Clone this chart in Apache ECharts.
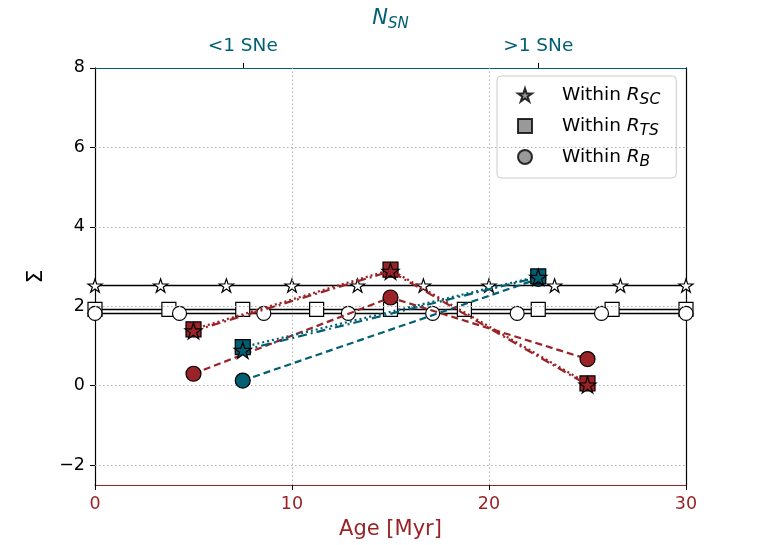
<!DOCTYPE html>
<html><head><meta charset="utf-8">
<script src="https://cdn.jsdelivr.net/npm/echarts@6/dist/echarts.min.js"></script>
<style>html,body{margin:0;padding:0;background:#fff}#c{width:763px;height:545px}</style>
</head><body><div id="c"></div>
<script>
const RED = '#9B2226', TEAL = '#005F73';
const STAR = 'path://M50 0 L61.23 34.55 L97.55 34.55 L68.16 55.9 L79.39 90.45 L50 69.1 L20.61 90.45 L31.84 55.9 L2.45 34.55 L38.77 34.55 Z';

// reference horizontal levels and their marker positions
const levelSC = 2.52, levelTS = 1.92, levelB = 1.82;
const markSC = [0, 3.33, 6.67, 10, 13.33, 16.67, 20, 23.33, 26.67, 30];
const markTS = [0, 3.75, 7.5, 11.25, 15, 18.75, 22.5, 26.25, 30];
const markB = [0, 4.29, 8.57, 12.86, 17.14, 21.43, 25.71, 30];

// red (age bins 5, 15, 25)
const redAges = [5, 15, 25];
const redB = [0.30, 2.22, 0.67];
const redTS = [1.42, 2.92, 0.06];
const redSC = [1.38, 2.88, 0.02];
// teal (N_SN bins at 7.5, 22.5)
const tealAges = [7.5, 22.5];
const tealB = [0.13, 2.69];
const tealTS = [0.97, 2.75];
const tealSC = [0.89, 2.73];

const yTicks = [-2, 0, 2, 4, 6, 8];
const xGrid = [10, 20];
const yGrid = [-2, 0, 2, 4, 6];
const topTicks = [7.5, 22.5];
const topLabels = {7.5: '<1 SNe', 22.5: '>1 SNe'};

const chart = echarts.init(document.getElementById('c'), null, {renderer: 'canvas'});
const FONT = 'DejaVu Sans';

function hline(level, marks, symbol) {
  return {
    type: 'line', xAxisIndex: 0, yAxisIndex: 0, silent: true, z: 2,
    data: marks.map(x => [x, level]),
    symbol: symbol, symbolSize: 14, symbolKeepAspect: true,
    showSymbol: true,
    lineStyle: {color: '#000', width: 1.5},
    itemStyle: {color: '#fff', borderColor: '#000', borderWidth: 1.2},
    legendHoverLink: false
  };
}
function dataSeries(ages, vals, color, symbol, dash, z) {
  return {
    type: 'line', xAxisIndex: 0, yAxisIndex: 0, silent: true, z: z,
    data: ages.map((a, i) => [a, vals[i]]),
    symbol: symbol, symbolSize: symbol === STAR ? 17 : 15, symbolKeepAspect: true,
    lineStyle: {color: color, width: 2.2, type: dash},
    itemStyle: {color: color, borderColor: '#000', borderWidth: 1.2}
  };
}
function legendSeries(name, symbol) {
  return {
    type: 'scatter', name: name, data: [], symbol: symbol, symbolKeepAspect: true,
    itemStyle: {color: '#808080', borderColor: '#000', borderWidth: 1.2}
  };
}

const grid = {
  type: 'line', data: [], silent: true, z: 1,
  markLine: {
    silent: true, symbol: 'none', label: {show: false},
    lineStyle: {color: '#b0b0b0', type: [1.5, 2.5], width: 1},
    data: yGrid.map(v => ({yAxis: v})).concat(xGrid.map(v => ({xAxis: v})))
  }
};

chart.setOption({
  animation: false,
  backgroundColor: '#fff',
  grid: {left: 95, right: 77, top: 66, bottom: 59},
  legend: {
    show: true, orient: 'vertical', left: 497, top: 76,
    padding: [6, 16, 8, 20], itemGap: 5,
    itemWidth: 14, itemHeight: 14,
    backgroundColor: '#fff', borderColor: '#cccccc', borderWidth: 1, borderRadius: 4,
    data: ['SC', 'TS', 'B'],
    formatter: n => '{w|Within }{r|R}{s|' + n + '}',
    textStyle: {
      fontFamily: FONT, fontSize: 18.5, color: '#000', padding: [0, 0, 0, 25],
      rich: {
        w: {fontFamily: FONT, fontSize: 18.5, color: '#000', lineHeight: 22},
        r: {fontFamily: FONT, fontSize: 18.5, fontStyle: 'italic', color: '#000', lineHeight: 22},
        s: {fontFamily: FONT, fontSize: 15.5, fontStyle: 'italic', color: '#000', lineHeight: 12, padding: [10, 0, 0, 0]}
      }
    }
  },
  xAxis: [{
    type: 'value', min: 0, max: 30, interval: 10, position: 'bottom',
    name: 'Age [Myr]', nameLocation: 'middle', nameGap: 34,
    nameTextStyle: {color: RED, fontFamily: FONT, fontSize: 21},
    axisLine: {onZero: false, lineStyle: {color: RED, width: 1.2}},
    axisTick: {show: true, length: 5, lineStyle: {color: '#000'}},
    axisLabel: {color: RED, fontFamily: FONT, fontSize: 17.5, margin: 10},
    splitLine: {show: false}
  }, {
    type: 'value', min: 0, max: 30, position: 'top',
    name: '{n|N}{s|SN}', nameLocation: 'middle', nameGap: 33,
    nameTextStyle: {color: TEAL, fontFamily: FONT, fontSize: 21,
      rich: {n: {fontFamily: FONT, fontSize: 21, fontStyle: 'italic', color: TEAL, lineHeight: 24},
             s: {fontFamily: FONT, fontSize: 15, fontStyle: 'italic', color: TEAL, lineHeight: 12, padding: [12, 0, 0, 0]}}},
    axisLine: {onZero: false, lineStyle: {color: TEAL, width: 1.2}},
    axisTick: {show: true, length: 5, customValues: topTicks, lineStyle: {color: '#000'}},
    axisLabel: {show: true, customValues: topTicks, formatter: v => topLabels[v] || '',
      color: TEAL, fontFamily: FONT, fontSize: 18.5, margin: 12},
    splitLine: {show: false}
  }],
  yAxis: [{
    type: 'value', min: -2.5, max: 8, position: 'left',
    name: 'Σ', nameLocation: 'middle', nameGap: 48, nameRotate: 90,
    nameTextStyle: {color: '#000', fontFamily: FONT, fontSize: 22},
    axisLine: {onZero: false, show: true, lineStyle: {color: '#000', width: 1.2}},
    axisTick: {show: true, length: 5, customValues: yTicks, lineStyle: {color: '#000'}},
    axisLabel: {customValues: yTicks, color: '#000', fontFamily: FONT, fontSize: 17.5, margin: 10,
      formatter: v => v < 0 ? '\u2212' + Math.abs(v) : String(v)},
    splitLine: {show: false}
  }, {
    type: 'value', min: -2.5, max: 8, position: 'right',
    axisLine: {onZero: false, show: true, lineStyle: {color: '#000', width: 1.2}},
    axisTick: {show: false}, axisLabel: {show: false}, splitLine: {show: false}
  }],
  series: [
    grid,
    hline(levelSC, markSC, STAR),
    hline(levelTS, markTS, 'rect'),
    hline(levelB, markB, 'circle'),
    dataSeries(redAges, redB, RED, 'circle', [7, 4], 5),
    dataSeries(redAges, redTS, RED, 'rect', [2, 3], 6),
    dataSeries(redAges, redSC, RED, STAR, [9, 4, 2, 4], 7),
    dataSeries(tealAges, tealB, TEAL, 'circle', [7, 4], 5),
    dataSeries(tealAges, tealTS, TEAL, 'rect', [2, 3], 6),
    dataSeries(tealAges, tealSC, TEAL, STAR, [9, 4, 2, 4], 7),
    legendSeries('SC', STAR),
    legendSeries('TS', 'rect'),
    legendSeries('B', 'circle')
  ]
});
</script></body></html>
